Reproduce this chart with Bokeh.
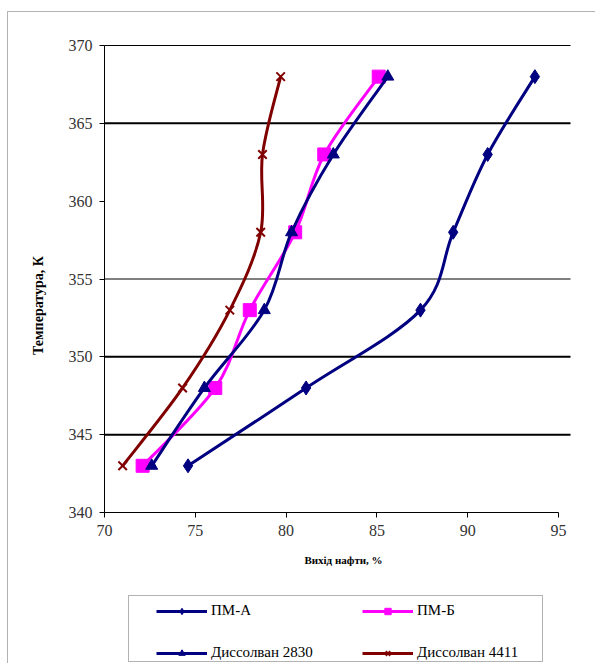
import math
from bokeh.plotting import figure
from bokeh.models import Range1d, FixedTicker, Legend, LegendItem, BoxAnnotation, Label
from bokeh.embed import file_html
from bokeh.resources import INLINE

# ---- data ----
temps = [343, 348, 353, 358, 363, 368]
pm_a = [74.6, 81.1, 87.4, 89.2, 91.1, 93.7]
pm_b = [72.1, 76.1, 78.0, 80.5, 82.1, 85.1]
diss_2830 = [72.6, 75.5, 78.8, 80.3, 82.6, 85.6]
diss_4411 = [71.0, 74.3, 76.9, 78.6, 78.7, 79.7]
series_names = ["ПМ-А", "ПМ-Б", "Диссолван 2830", "Диссолван 4411"]
x_ticks = [70, 75, 80, 85, 90, 95]
y_ticks = [340, 345, 350, 355, 360, 365, 370]
grid_thick = [345, 350, 365]
grid_thin = [355, 370]
x_label = "Вихід нафти, %"
y_label = "Температура, К"

SERIF = "'Liberation Serif', 'Times New Roman', serif"

# ---- layout (pixels) ----
W, H = 595, 663
X0_PX, X1_PX = 104, 558     # pixel position of x=70 and x=95
Y0_PX, Y1_PX = 512, 45      # pixel position of y=340 and y=370
GRID_END_PX = 570
xs_per_px = (x_ticks[-1] - x_ticks[0]) / (X1_PX - X0_PX)
ys_per_px = (y_ticks[-1] - y_ticks[0]) / (Y0_PX - Y1_PX)
x_start = x_ticks[0] - X0_PX * xs_per_px
x_end = x_ticks[0] + (W - X0_PX) * xs_per_px
y_start = y_ticks[0] - (H - Y0_PX) * ys_per_px
y_end = y_ticks[0] + Y0_PX * ys_per_px
grid_x_end = x_ticks[0] + (GRID_END_PX - X0_PX) * xs_per_px


def catmull_bezier(xs, ys):
    X = [xs[0]] + list(xs) + [xs[-1]]
    Y = [ys[0]] + list(ys) + [ys[-1]]
    out = dict(x0=[], y0=[], x1=[], y1=[], cx0=[], cy0=[], cx1=[], cy1=[])
    for i in range(len(xs) - 1):
        p0x, p1x, p2x, p3x = X[i], X[i + 1], X[i + 2], X[i + 3]
        p0y, p1y, p2y, p3y = Y[i], Y[i + 1], Y[i + 2], Y[i + 3]
        out["x0"].append(p1x); out["y0"].append(p1y)
        out["x1"].append(p2x); out["y1"].append(p2y)
        out["cx0"].append(p1x + (p2x - p0x) / 6.0)
        out["cy0"].append(p1y + (p2y - p0y) / 6.0)
        out["cx1"].append(p2x - (p3x - p1x) / 6.0)
        out["cy1"].append(p2y - (p3y - p1y) / 6.0)
    return out


p = figure(width=W, height=H, output_backend="svg", toolbar_location=None,
           x_range=Range1d(x_start, x_end), y_range=Range1d(y_start, y_end),
           min_border_left=0, min_border_right=0, min_border_top=0,
           min_border_bottom=0)
p.outline_line_color = None
p.xgrid.visible = False
p.ygrid.visible = False

for ax, ticks in ((p.xaxis, x_ticks), (p.yaxis, y_ticks)):
    ax.ticker = FixedTicker(ticks=ticks)
    ax.bounds = (ticks[0], ticks[-1])
    ax.minor_tick_line_color = None
    ax.major_tick_out = 5
    ax.major_tick_in = 0
    ax.axis_line_color = "black"
    ax.major_tick_line_color = "black"
    ax.major_label_text_font = SERIF
    ax.major_label_text_font_size = "16px"
    ax.major_label_text_color = "#333333"
    ax.major_label_standoff = 7
p.xaxis.fixed_location = y_ticks[0]
p.yaxis.fixed_location = x_ticks[0]

# axis titles, placed where the original has them
p.add_layout(Label(x=343, y=559, x_units="canvas", y_units="canvas", text=x_label,
                   text_font=SERIF, text_font_style="bold", text_font_size="11px",
                   text_color="black", text_align="center", text_baseline="middle"))
p.add_layout(Label(x=38, y=305, x_units="canvas", y_units="canvas", text=y_label,
                   angle=math.pi / 2, text_font=SERIF, text_font_style="bold",
                   text_font_size="14px", text_color="black", text_align="center",
                   text_baseline="middle"))

# horizontal grid lines (as in the original: some thick, some thin, none at 360)
p.segment(x0=[x_ticks[0]] * len(grid_thick), x1=[grid_x_end] * len(grid_thick),
          y0=grid_thick, y1=grid_thick, line_color="black", line_width=2)
p.segment(x0=[x_ticks[0]] * len(grid_thin), x1=[grid_x_end] * len(grid_thin),
          y0=grid_thin, y1=grid_thin, line_color="black", line_width=1)

styles = [
    (pm_a, "#000080", "diamond", 14, 1),
    (pm_b, "#FF00FF", "square", 13, 1),
    (diss_2830, "#000080", "triangle", 12, 1),
    (diss_4411, "#800000", "x", 12, 2),
]

items = []
for (xs, color, marker, size, lw), name in zip(styles, series_names):
    b = catmull_bezier(xs, temps)
    br = p.bezier(x0=b["x0"], y0=b["y0"], x1=b["x1"], y1=b["y1"],
                  cx0=b["cx0"], cy0=b["cy0"], cx1=b["cx1"], cy1=b["cy1"],
                  line_color=color, line_width=3)
    sr = p.scatter(xs, temps, marker=marker, size=size, fill_color=color,
                   line_color=color, line_width=lw)
    items.append(LegendItem(label=name, renderers=[br, sr]))

# outer frame lines of the original picture
p.add_layout(BoxAnnotation(left=7, right=W + 20, top=11, bottom=H + 20,
                           left_units="canvas", right_units="canvas",
                           top_units="canvas", bottom_units="canvas",
                           fill_alpha=0, line_color="black", line_width=1,
                           level="overlay"))
# legend box
p.add_layout(BoxAnnotation(left=128, right=542, top=595, bottom=661,
                           left_units="canvas", right_units="canvas",
                           top_units="canvas", bottom_units="canvas",
                           fill_alpha=0, line_color="black", line_width=1,
                           level="overlay"))

legend = Legend(items=items, location=(156, 2), orientation="horizontal", ncols=2,
                glyph_width=51, glyph_height=16, label_height=16, label_width=126,
                label_standoff=4, spacing=25, padding=0, margin=0,
                border_line_color=None, background_fill_alpha=0,
                label_text_font=SERIF, label_text_font_size="15px",
                label_text_color="black")
p.add_layout(legend, "center")

open("out.html", "w").write(file_html(p, INLINE))
